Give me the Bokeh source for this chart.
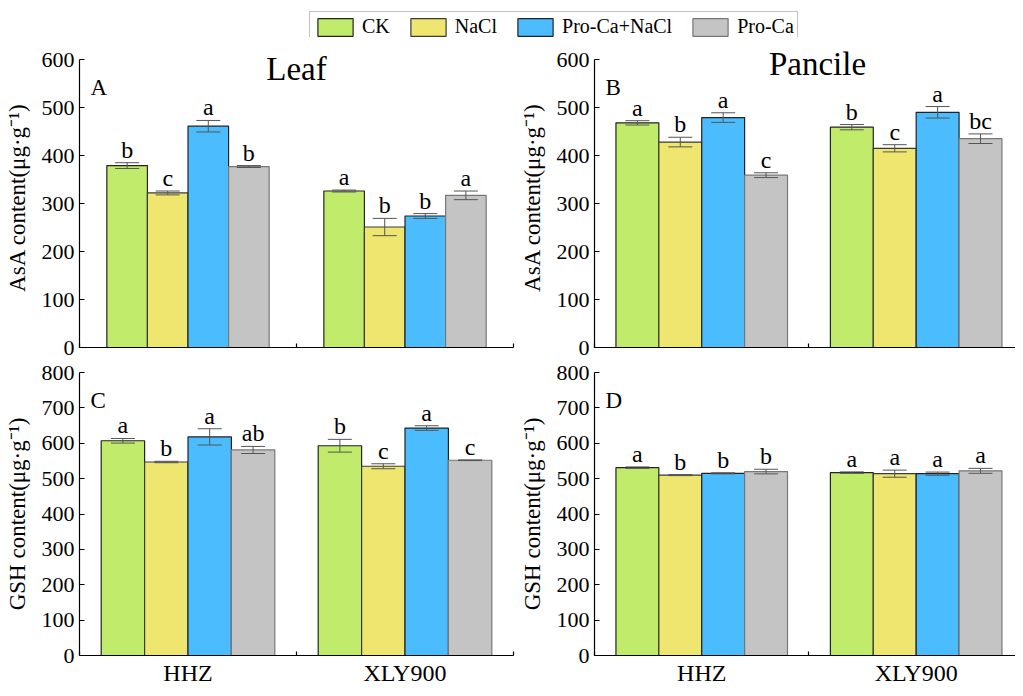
import numpy as np
from bokeh.plotting import figure
from bokeh.models import (ColumnDataSource, Whisker, TeeHead, Label, FixedTicker,
                          Legend, LegendItem, Range1d)
from bokeh.layouts import column, row
from bokeh.embed import file_html
from bokeh.resources import INLINE
from bokeh.core.properties import value

FONT = "Liberation Serif"

# ---------------- data ----------------
categories = ["HHZ", "XLY900"]
treatments = ["CK", "NaCl", "Pro-Ca+NaCl", "Pro-Ca"]

# A: Leaf AsA
leaf_asa_hhz = [379, 322, 461, 377]
leaf_asa_hhz_err = [6, 4, 12, 2]
leaf_asa_xly = [326, 251, 274, 317]
leaf_asa_xly_err = [2, 18, 5, 9]
leaf_asa_hhz_sig = ["b", "c", "a", "b"]
leaf_asa_xly_sig = ["a", "b", "b", "a"]

# B: Pancile AsA
pan_asa_hhz = [468, 428, 479, 359]
pan_asa_hhz_err = [4.5, 10, 10, 5]
pan_asa_xly = [459, 415, 490, 435]
pan_asa_xly_err = [5.5, 7.5, 12, 10]
pan_asa_hhz_sig = ["a", "b", "a", "c"]
pan_asa_xly_sig = ["b", "c", "a", "bc"]

# C: Leaf GSH
leaf_gsh_hhz = [607, 547, 618, 581]
leaf_gsh_hhz_err = [6.5, 2, 23, 10]
leaf_gsh_xly = [593, 535, 643, 552]
leaf_gsh_xly_err = [18, 7, 6.5, 1]
leaf_gsh_hhz_sig = ["a", "b", "a", "ab"]
leaf_gsh_xly_sig = ["b", "c", "a", "c"]

# D: Pancile GSH
pan_gsh_hhz = [531, 510, 515, 520]
pan_gsh_hhz_err = [2, 1.5, 1.5, 6.5]
pan_gsh_xly = [517, 514, 514, 522]
pan_gsh_xly_err = [2, 10, 4.5, 7]
pan_gsh_hhz_sig = ["a", "b", "b", "b"]
pan_gsh_xly_sig = ["a", "a", "a", "a"]

# ---------------- style ----------------
fill_colors = ["#C1EC6B", "#EEE66E", "#4BBCFD", "#C4C4C4"]
edge_colors = ["#222222", "#3a3a3a", "#222222", "#777777"]
err_color = "#555555"


def make_panel(width, height, mbl, mbr, mbt, mbb, x_end, y_max, y_view, y_step, bar_w,
               hhz, hhz_err, xly, xly_err, hhz_sig, xly_sig,
               ylabel, letter, title=None, title_x=1.0, title_dy=0, show_x=True):
    p = figure(width=width, height=height, x_range=Range1d(0, x_end),
               y_range=Range1d(0, y_view), output_backend="svg",
               toolbar_location=None, min_border_left=mbl, min_border_right=mbr,
               min_border_top=mbt, min_border_bottom=mbb)
    p.xgrid.visible = False
    p.ygrid.visible = False
    p.outline_line_color = None
    p.background_fill_color = "white"

    for i, t in enumerate(treatments):
        xs = [g + 0.5 + (i - 1.5) * bar_w for g in range(len(categories))]
        vals = [hhz[i], xly[i]]
        errs = [hhz_err[i], xly_err[i]]
        sig = [hhz_sig[i], xly_sig[i]]
        src = ColumnDataSource(dict(
            x=xs, top=vals,
            upper=[v + e for v, e in zip(vals, errs)],
            lower=[v - e for v, e in zip(vals, errs)],
            sig=sig))
        p.vbar(x="x", top="top", width=bar_w, source=src,
               fill_color=fill_colors[i], line_color=edge_colors[i], line_width=1.2)
        w = Whisker(source=src, base="x", upper="upper", lower="lower",
                    line_color=err_color, line_width=1, level="annotation",
                    upper_head=TeeHead(size=24, line_color=err_color, line_width=1),
                    lower_head=TeeHead(size=24, line_color=err_color, line_width=1))
        p.add_layout(w)
        p.text(x="x", y="upper", text="sig", source=src, text_align="center",
               text_baseline="alphabetic", y_offset=-13,
               text_font=value(FONT), text_font_size="24px", text_color="black")

    # y axis
    ya = p.yaxis[0]
    ya.bounds = (0, y_max)
    ya.ticker = FixedTicker(ticks=list(range(0, y_max + 1, y_step)))
    ya.major_tick_in = 5
    ya.major_tick_out = 0
    ya.minor_tick_in = 0
    ya.minor_tick_out = 0
    ya.axis_line_width = 1.2
    ya.major_tick_line_width = 1.2
    ya.major_label_text_font = FONT
    ya.major_label_text_font_size = "22px"
    ya.major_label_text_color = "black"
    ya.major_label_standoff = 5
    ya.axis_label = ylabel
    ya.axis_label_text_font = FONT
    ya.axis_label_text_font_size = "23px"
    ya.axis_label_text_font_style = "normal"
    ya.axis_label_text_color = "black"
    ya.axis_label_standoff = 9

    # x axis
    xa = p.xaxis[0]
    centers = [g + 0.5 for g in range(len(categories))]
    bounds = list(range(len(categories) + 1))
    xa.ticker = FixedTicker(ticks=centers, minor_ticks=bounds)
    xa.major_tick_in = 0
    xa.major_tick_out = 0
    xa.minor_tick_in = 4
    xa.minor_tick_out = 0
    xa.axis_line_width = 1.2
    xa.minor_tick_line_width = 1.2
    if show_x:
        xa.major_label_overrides = {c: n for c, n in zip(centers, categories)}
        xa.major_label_text_font = FONT
        xa.major_label_text_font_size = "24px"
        xa.major_label_text_color = "black"
        xa.major_label_standoff = 4
    else:
        xa.major_label_overrides = {c: "" for c in centers}
        xa.major_label_text_font_size = "1px"
        xa.major_label_standoff = 0

    p.add_layout(Label(x=0, y=y_max, text=letter, x_offset=11, y_offset=-15,
                       text_baseline="top", text_align="left",
                       text_font=FONT, text_font_size="23px", text_color="black"))
    if title:
        p.add_layout(Label(x=title_x, y=y_max, text=title, y_offset=title_dy,
                           text_baseline="middle", text_align="center",
                           text_font=FONT, text_font_size="33px", text_color="black"))
    return p


W_L, W_R = 524, 499
H1, H2 = 321, 330
xend_r = 426 / 217.0
# row 1: frame 300 px tall, of which 288 px carry 0..600
yview_top = 600 * 300 / 288.0

pA = make_panel(W_L, H1, 87, 3, 10, 11, 2, 600, yview_top, 100, 0.187,
                leaf_asa_hhz, leaf_asa_hhz_err, leaf_asa_xly, leaf_asa_xly_err,
                leaf_asa_hhz_sig, leaf_asa_xly_sig,
                "AsA content(μg·g⁻¹)", "A", title="Leaf", title_x=1.0, title_dy=-9,
                show_x=False)
pB = make_panel(W_R, H1, 73, 0, 10, 11, xend_r, 600, yview_top, 100, 0.2,
                pan_asa_hhz, pan_asa_hhz_err, pan_asa_xly, pan_asa_xly_err,
                pan_asa_hhz_sig, pan_asa_xly_sig,
                "AsA content(μg·g⁻¹)", "B", title="Pancile", title_x=1.04, title_dy=-4,
                show_x=False)
pC = make_panel(W_L, H2, 87, 3, 14, 28, 2, 800, 800, 100, 0.2,
                leaf_gsh_hhz, leaf_gsh_hhz_err, leaf_gsh_xly, leaf_gsh_xly_err,
                leaf_gsh_hhz_sig, leaf_gsh_xly_sig,
                "GSH content(μg·g⁻¹)", "C", show_x=True)
pD = make_panel(W_R, H2, 73, 0, 14, 28, xend_r, 800, 800, 100, 0.2,
                pan_gsh_hhz, pan_gsh_hhz_err, pan_gsh_xly, pan_gsh_xly_err,
                pan_gsh_hhz_sig, pan_gsh_xly_sig,
                "GSH content(μg·g⁻¹)", "D", show_x=True)

# legend strip
lf = figure(width=W_L + W_R, height=45, x_range=Range1d(0, 1), y_range=Range1d(0, 1),
            x_axis_type=None, y_axis_type=None, toolbar_location=None,
            output_backend="svg", min_border=0)
lf.outline_line_color = None
items = []
for i, t in enumerate(treatments):
    r = lf.vbar(x=[0], top=[leaf_asa_hhz[i]], width=0.1, fill_color=fill_colors[i],
                line_color=edge_colors[i], line_width=1.2, visible=False)
    items.append(LegendItem(label=t, renderers=[r]))
legend = Legend(items=items, orientation="horizontal", location=(317, -5),
                glyph_width=44, glyph_height=22, label_standoff=5, spacing=16,
                padding=3, margin=0, border_line_color="#888888", border_line_width=1,
                label_text_font=FONT, label_text_font_size="20px",
                label_text_color="black", background_fill_alpha=1)
lf.add_layout(legend, "center")

root = column(lf, row(pA, pB), row(pC, pD), margin=(-8, 0, 0, -8))

with open("out.html", "w") as f:
    f.write(file_html(root, INLINE))
